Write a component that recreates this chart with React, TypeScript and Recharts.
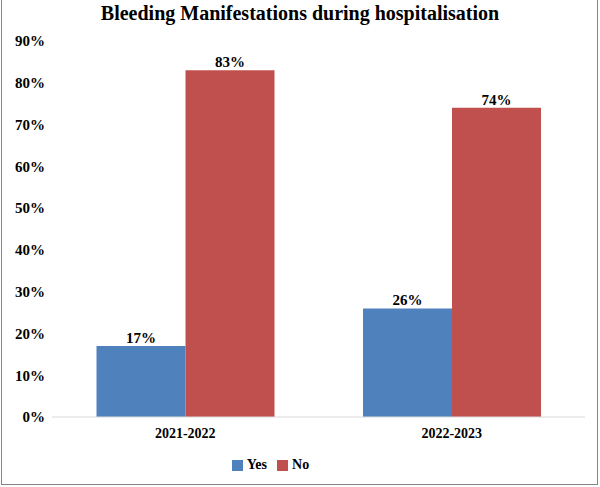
import React from "react";
import { BarChart, Bar, XAxis, YAxis, Legend, LabelList } from "recharts";

const categories = ["2021-2022", "2022-2023"];
const yesValues = [0.17, 0.26];
const noValues = [0.83, 0.74];
const yTicks = [0, 0.1, 0.2, 0.3, 0.4, 0.5, 0.6, 0.7, 0.8, 0.9];

const data = categories.map((c, i) => ({ name: c, Yes: yesValues[i], No: noValues[i] }));

const FONT = "Liberation Serif";
const pct = (v: any) => `${Math.round(Number(v) * 100)}%`;
const textStyle = { fontFamily: FONT, fontWeight: "bold" as const };

export default function App() {
  return (
    <div
      style={{
        position: "absolute",
        left: 0,
        top: 0,
        width: 600,
        height: 487,
        fontFamily: FONT,
        background: "#fff",
      }}
    >
      <div
        style={{
          position: "absolute",
          left: 1,
          top: 0,
          width: 597,
          height: 485,
          borderLeft: "1px solid #868686",
          borderRight: "1px solid #868686",
          borderBottom: "1px solid #868686",
          boxSizing: "border-box",
        }}
      />
      <div
        style={{
          position: "absolute",
          left: 0,
          top: 0,
          width: 600,
          textAlign: "center",
          fontWeight: "bold",
          fontSize: 20,
          lineHeight: "27px",
          color: "#000",
          fontFamily: FONT,
        }}
      >
        Bleeding Manifestations during hospitalisation
      </div>
      <BarChart
        width={600}
        height={487}
        data={data}
        margin={{ top: 41, right: 15, bottom: 16, left: 0 }}
        barCategoryGap="16.7%"
        barGap={0}
        style={{ fontFamily: FONT }}
      >
        <XAxis
          dataKey="name"
          axisLine={{ stroke: "#d9d9d9" }}
          tickLine={false}
          height={36}
          tickMargin={5}
          tick={{ fill: "#000", fontSize: 14, fontWeight: "bold", fontFamily: FONT, style: textStyle }}
        />
        <YAxis
          width={52}
          domain={[0, 0.9]}
          ticks={yTicks}
          interval={0}
          axisLine={false}
          tickLine={false}
          tickMargin={1}
          tickFormatter={pct}
          tick={{ fill: "#000", fontSize: 15, fontWeight: "bold", fontFamily: FONT, style: textStyle }}
        />
        <Legend
          verticalAlign="bottom"
          align="center"
          iconType="square"
          iconSize={11}
          wrapperStyle={{ left: -17, bottom: 14 }}
          itemSorter={(item: any) => (item.dataKey === "Yes" ? 0 : 1)}
          formatter={(v: any) => (
            <span style={{ color: "#000", fontWeight: "bold", fontSize: 14, fontFamily: FONT }}>{v}</span>
          )}
        />
        <Bar dataKey="Yes" fill="#4F81BD" isAnimationActive={false}>
          <LabelList
            dataKey="Yes"
            position="top"
            offset={3}
            formatter={pct}
            style={{ fill: "#000", fontSize: 15, fontWeight: "bold", fontFamily: FONT }}
          />
        </Bar>
        <Bar dataKey="No" fill="#C0504D" isAnimationActive={false}>
          <LabelList
            dataKey="No"
            position="top"
            offset={3}
            formatter={pct}
            style={{ fill: "#000", fontSize: 15, fontWeight: "bold", fontFamily: FONT }}
          />
        </Bar>
      </BarChart>
    </div>
  );
}
